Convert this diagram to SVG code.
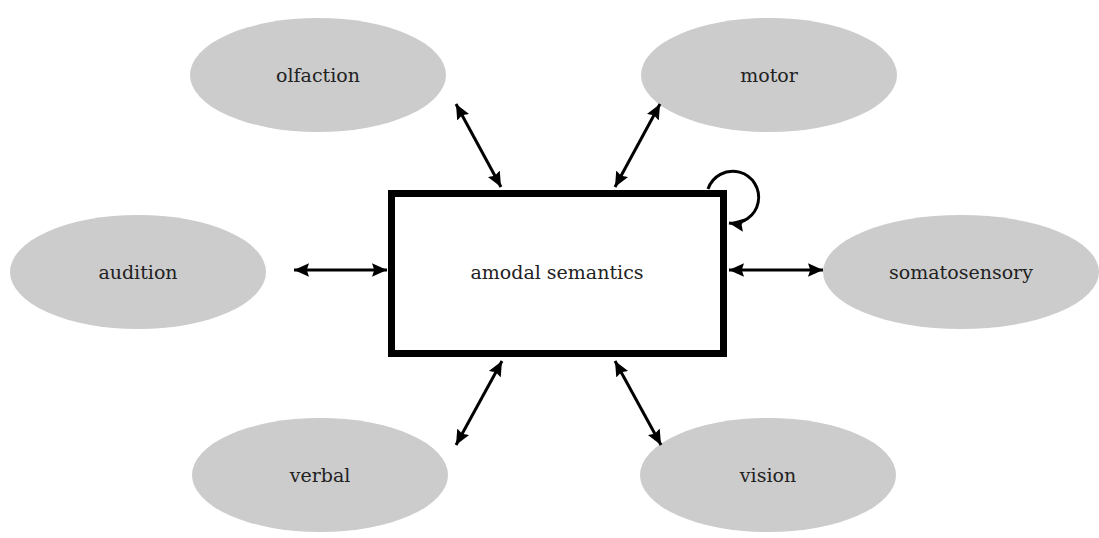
<svg xmlns="http://www.w3.org/2000/svg" width="1099" height="538" viewBox="0 0 1099 538">
  <style>
    .mod { fill: #cccccc; stroke: none; }
    .lbl { font-family: 'DejaVu Serif', serif; font-size: 19px; fill: #222; text-anchor: middle; dominant-baseline: central; }
    .link { stroke: #000; stroke-width: 3; fill: none; marker-start: url(#head); marker-end: url(#head); }
    .loop { stroke: #000; stroke-width: 3; fill: none; marker-end: url(#head); }
  </style>
  <defs>
    <!-- filled arrowhead shared by every connector end -->
    <marker id="head" viewBox="0 0 10 10" refX="10" refY="5" markerWidth="5" markerHeight="5" orient="auto-start-reverse" markerUnits="strokeWidth">
      <path d="M0,0.5 L10,5 L0,9.5 L1.5,5 Z" fill="#000"/>
    </marker>
  </defs>

  <g id="olfaction"><ellipse class="mod" cx="318" cy="75" rx="128" ry="57"/><text class="lbl" x="318" y="75">olfaction</text></g>
  <g id="motor"><ellipse class="mod" cx="769" cy="75" rx="128" ry="57"/><text class="lbl" x="769" y="75">motor</text></g>
  <g id="audition"><ellipse class="mod" cx="138" cy="272" rx="128" ry="57"/><text class="lbl" x="138" y="272">audition</text></g>
  <g id="somatosensory"><ellipse class="mod" cx="961" cy="272" rx="138" ry="57"/><text class="lbl" x="961" y="272">somatosensory</text></g>
  <g id="verbal"><ellipse class="mod" cx="320" cy="475" rx="128" ry="57"/><text class="lbl" x="320" y="475">verbal</text></g>
  <g id="vision"><ellipse class="mod" cx="768" cy="475" rx="128" ry="57"/><text class="lbl" x="768" y="475">vision</text></g>

  <g id="amodal-semantics">
    <rect x="391.5" y="193.5" width="332" height="160" fill="#fff" stroke="#000" stroke-width="7"/>
    <text class="lbl" x="557" y="272">amodal semantics</text>
  </g>

  <g id="connectors">
    <line class="link" x1="456" y1="104" x2="501" y2="187"/>
    <line class="link" x1="660" y1="104" x2="615" y2="187"/>
    <line class="link" x1="294" y1="270" x2="387" y2="270"/>
    <line class="link" x1="729" y1="270" x2="823" y2="270"/>
    <line class="link" x1="502" y1="361" x2="456" y2="445"/>
    <line class="link" x1="615" y1="361" x2="661" y2="445"/>
    <!-- recurrent loop on the hub's top-right corner -->
    <path class="loop" d="M708,189 A26,26 0 1 1 729,223"/>
  </g>
</svg>
